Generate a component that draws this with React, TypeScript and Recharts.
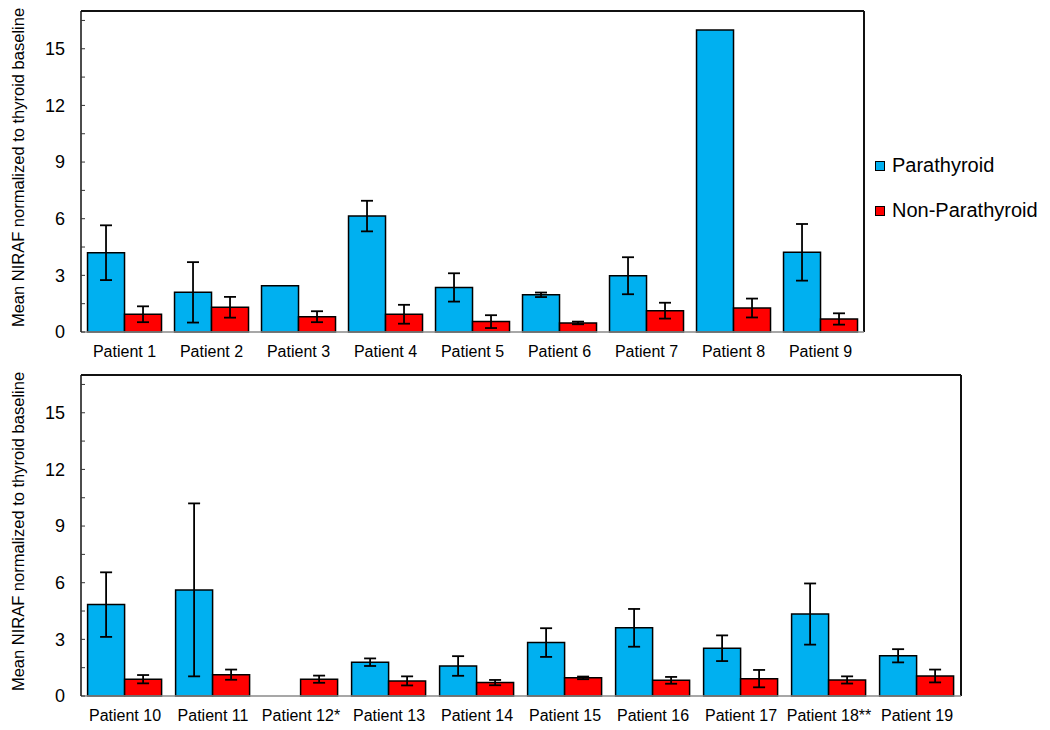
import { Bar, BarChart, ErrorBar, Legend, ReferenceLine, XAxis, YAxis } from "recharts";

const topPatients = ["Patient 1", "Patient 2", "Patient 3", "Patient 4", "Patient 5", "Patient 6", "Patient 7", "Patient 8", "Patient 9"];
const topPara = [4.2, 2.1, 2.45, 6.14, 2.36, 1.97, 2.98, 16.0, 4.22];
const topParaErr = [1.45, 1.6, null, 0.81, 0.75, 0.12, 0.98, null, 1.5];
const topNon = [0.94, 1.31, 0.81, 0.94, 0.55, 0.48, 1.13, 1.27, 0.69];
const topNonErr = [0.42, 0.55, 0.29, 0.5, 0.34, 0.07, 0.42, 0.5, 0.3];

const bottomPatients = ["Patient 10", "Patient 11", "Patient 12*", "Patient 13", "Patient 14", "Patient 15", "Patient 16", "Patient 17", "Patient 18**", "Patient 19"];
const bottomPara = [4.84, 5.62, null, 1.79, 1.59, 2.83, 3.61, 2.53, 4.34, 2.13];
const bottomParaErr = [1.71, 4.58, null, 0.2, 0.52, 0.76, 1.0, 0.68, 1.62, 0.35];
const bottomNon = [0.89, 1.13, 0.89, 0.8, 0.71, 0.96, 0.83, 0.92, 0.85, 1.06];
const bottomNonErr = [0.22, 0.27, 0.19, 0.24, 0.14, 0.07, 0.18, 0.46, 0.19, 0.34];

const yTicks = [0, 1.5, 3, 4.5, 6, 7.5, 9, 10.5, 12, 13.5, 15, 16.5];
const Y_MAX = 17;
const Y_LABEL = "Mean NIRAF normalized to thyroid baseline";
const SERIES = ["Parathyroid", "Non-Parathyroid"];

const BLUE = "#00B0F0";
const RED = "#FF0000";

type PanelProps = {
  categories: string[];
  para: (number | null)[];
  paraErr: (number | null)[];
  non: number[];
  nonErr: number[];
  marginRight: number;
  marginTop: number;
  marginBottom: number;
  showLegend?: boolean;
};

function LegendBox({ payload }: any) {
  const items = [...(payload ?? [])].sort(
    (a: any, b: any) => SERIES.indexOf(a.value) - SERIES.indexOf(b.value)
  );
  return (
    <div>
      {items.map((p: any) => (
        <div
          key={p.value}
          style={{ display: "flex", alignItems: "center", height: 45, fontSize: 20, color: "#000" }}
        >
          <span
            style={{
              display: "inline-block",
              width: 8,
              height: 8,
              background: p.color,
              border: "1px solid #000",
              marginRight: 7,
            }}
          />
          {p.value}
        </div>
      ))}
    </div>
  );
}

function Panel({ categories, para, paraErr, non, nonErr, marginRight, marginTop, marginBottom, showLegend }: PanelProps) {
  const rows = categories.map((name, i) => ({
    name,
    para: para[i],
    paraErr: paraErr[i],
    non: non[i],
    nonErr: nonErr[i],
  }));
  const lastCat = categories[categories.length - 1];

  return (
    <BarChart
      width={1050}
      height={370}
      data={rows}
      margin={{ top: marginTop, right: marginRight, left: 0, bottom: marginBottom }}
      barCategoryGap="7.5%"
      barGap={0}
    >
      <XAxis
        dataKey="name"
        interval={0}
        tickLine={false}
        tickSize={0}
        tickMargin={14}
        height={30}
        axisLine={{ stroke: "#8a8a8a", strokeWidth: 1.5 }}
        tick={{ fill: "#000", fontSize: 16 }}
      />
      <YAxis
        domain={[0, Y_MAX]}
        ticks={yTicks}
        interval={0}
        width={81}
        tickSize={-4}
        tickMargin={20}
        tickLine={{ stroke: "#333" }}
        axisLine={{ stroke: "#111", strokeWidth: 1.5 }}
        tick={{ fill: "#000", fontSize: 18 }}
        tickFormatter={(v: number) => (v % 3 === 0 ? String(v) : "")}
        label={{
          value: Y_LABEL,
          angle: -90,
          position: "insideLeft",
          offset: 18,
          dy: -4,
          style: { textAnchor: "middle", fill: "#000", fontSize: 16.5 },
        }}
      />
      {/* plot frame: top and right edges */}
      <ReferenceLine y={Y_MAX} stroke="#111" strokeWidth={2} />
      <ReferenceLine x={lastCat} position="end" stroke="#111" strokeWidth={2} />
      {showLegend && (
        <Legend
          layout="vertical"
          align="center"
          verticalAlign="middle"
          content={LegendBox}
          wrapperStyle={{ left: 875, top: 143, width: 180 }}
        />
      )}
      <Bar dataKey="para" name="Parathyroid" fill={BLUE} stroke="#000" strokeWidth={1.5} isAnimationActive={false}>
        <ErrorBar dataKey="paraErr" width={6} strokeWidth={1.8} stroke="#000" />
      </Bar>
      <Bar dataKey="non" name="Non-Parathyroid" fill={RED} stroke="#000" strokeWidth={1.5} isAnimationActive={false}>
        <ErrorBar dataKey="nonErr" width={6} strokeWidth={1.8} stroke="#000" />
      </Bar>
    </BarChart>
  );
}

export default function App() {
  return (
    <div
      style={{
        position: "absolute",
        left: 0,
        top: 0,
        width: 1050,
        height: 730,
        background: "#fff",
        fontFamily: "'Liberation Sans', Arial, sans-serif",
      }}
    >
      <div style={{ position: "absolute", left: 0, top: 0 }}>
        <Panel
          categories={topPatients}
          para={topPara}
          paraErr={topParaErr}
          non={topNon}
          nonErr={topNonErr}
          marginRight={186}
          marginTop={11}
          marginBottom={8}
          showLegend
        />
      </div>
      <div style={{ position: "absolute", left: 0, top: 365 }}>
        <Panel
          categories={bottomPatients}
          para={bottomPara}
          paraErr={bottomParaErr}
          non={bottomNon}
          nonErr={bottomNonErr}
          marginRight={89}
          marginTop={10}
          marginBottom={9}
        />
      </div>
    </div>
  );
}
